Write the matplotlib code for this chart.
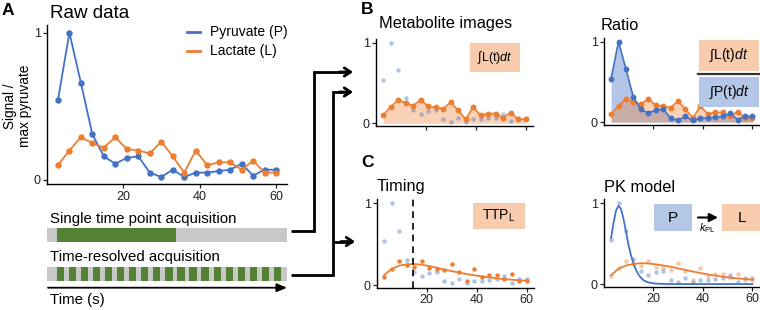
import numpy as np
import matplotlib
matplotlib.use("Agg")
import matplotlib.pyplot as plt
from matplotlib.patches import Rectangle

plt.rcParams["font.family"] = ["Liberation Sans", "DejaVu Sans"]
plt.rcParams["mathtext.fontset"] = "custom"
plt.rcParams["mathtext.rm"] = "Liberation Sans"
plt.rcParams["mathtext.it"] = "Liberation Sans:italic"

# data (signal / max pyruvate)
time = [3, 6, 9, 12, 15, 18, 21, 24, 27, 30, 33, 36, 39, 42, 45, 48, 51, 54, 57, 60]
pyruvate = [0.54, 1.00, 0.66, 0.31, 0.16, 0.11, 0.15, 0.16, 0.05, 0.02,
            0.07, 0.02, 0.05, 0.05, 0.06, 0.07, 0.11, 0.03, 0.07, 0.07]
lactate = [0.10, 0.20, 0.29, 0.25, 0.22, 0.29, 0.21, 0.20, 0.18, 0.26,
           0.16, 0.05, 0.20, 0.10, 0.12, 0.12, 0.07, 0.13, 0.05, 0.05]

# smoothed lactate curve (timing panel)
smooth_lac = [0.122, 0.196, 0.237, 0.253, 0.256, 0.249, 0.232, 0.212, 0.190, 0.171,
              0.152, 0.135, 0.120, 0.106, 0.094, 0.082, 0.073, 0.065, 0.058, 0.053]
ttp_lactate = 14.4

# PK model fits
pk_time_p = [3, 4, 5, 6, 7, 8, 9, 10, 11, 12, 13, 14, 15, 16, 17, 18, 20, 22, 25, 30, 40, 50, 60]
pk_pyr = [0.57, 0.76, 0.91, 0.97, 0.93, 0.81, 0.65, 0.49, 0.36, 0.26, 0.18, 0.12,
          0.08, 0.05, 0.033, 0.021, 0.009, 0.004, 0.001, 0, 0, 0, 0]
pk_lac = [0.11, 0.19, 0.23, 0.25, 0.258, 0.255, 0.245, 0.23, 0.215, 0.195,
          0.175, 0.155, 0.137, 0.12, 0.105, 0.092, 0.08, 0.07, 0.062, 0.055]

blue = "#4472C4"
orange = "#ED7D31"
box_or = "#F8CBAD"
box_bl = "#B4C7E7"
W, H = 760, 310

fig = plt.figure(figsize=(7.6, 3.1), dpi=100)


def axes_px(l, t, r, b):
    return fig.add_axes([l / W, 1 - b / H, (r - l) / W, (b - t) / H])


def style(ax, xlabels=True):
    ax.set_xlim(0.15, 62.85)
    ax.set_ylim(-0.03, 1.05)
    for s in ["top", "right"]:
        ax.spines[s].set_visible(False)
    for s in ["left", "bottom"]:
        ax.spines[s].set_linewidth(1.0)
    ax.set_xticks([20, 40, 60])
    ax.set_yticks([0, 1])
    ax.set_yticklabels(["0", "1"])
    ax.tick_params(length=3, width=0.9, labelsize=9, pad=1.5, colors="#222")
    ax.tick_params(labelbottom=xlabels)
    ax.patch.set_alpha(0)


# A: raw data
axA = axes_px(47, 25.3, 287, 184.4)
style(axA)
axA.plot(time, pyruvate, "-o", color=blue, lw=1.3, ms=3.6)
axA.plot(time, lactate, "-o", color=orange, lw=1.3, ms=3.6)

# B: metabolite images
axB1 = axes_px(376, 38.7, 532.7, 125.7)
style(axB1, False)
axB1.fill_between(time, 0, lactate, color=orange, alpha=0.35, lw=0)
axB1.plot(time, pyruvate, "o", color=blue, alpha=0.42, ms=3.2, mec="none")
axB1.plot(time, lactate, "-o", color=orange, lw=1.2, ms=3.2)

# B: ratio
axB2 = axes_px(604, 37.7, 759.5, 124.5)
style(axB2, False)
axB2.fill_between(time, 0, pyruvate, color=blue, alpha=0.4, lw=0)
axB2.fill_between(time, 0, lactate, color=orange, alpha=0.35, lw=0)
axB2.plot(time, lactate, "-o", color=orange, lw=1.2, ms=3.2)
axB2.plot(time, pyruvate, "-o", color=blue, lw=1.2, ms=3.2)

# C: timing
axC1 = axes_px(377, 199.2, 533.7, 287.5)
style(axC1)
axC1.plot(time, pyruvate, "o", color=blue, alpha=0.42, ms=3.2, mec="none")
axC1.plot(time, lactate, "o", color=orange, ms=3.2, mec="none")
axC1.plot(time, smooth_lac, "-", color=orange, lw=1.3)
axC1.axvline(ttp_lactate, color="black", lw=1.2, ls=(0, (4, 3)))

# C: PK model
axC2 = axes_px(604, 199.3, 759.5, 286.5)
style(axC2)
axC2.plot(time, pyruvate, "o", color=blue, alpha=0.42, ms=3.2, mec="none")
axC2.plot(time, lactate, "o", color=orange, alpha=0.42, ms=3.2, mec="none")
axC2.plot(pk_time_p, pk_pyr, "-", color=blue, lw=1.3)
axC2.plot(time, pk_lac, "-", color=orange, lw=1.3)

# acquisition schematic, same time axis as panel A
axT = axes_px(47, 190, 287, 310)
axT.set_xlim(0.15, 62.85)
axT.set_ylim(310, 190)
axT.axis("off")
axT.add_patch(Rectangle((0.15, 228.3), 62.7, 13.4, color="#C8C8C8", lw=0))
axT.add_patch(Rectangle((2.7, 228.3), 31.2, 13.4, color="#548235", lw=0))
axT.add_patch(Rectangle((0.15, 267.3), 62.7, 13.4, color="#C8C8C8", lw=0))
n_frames = 19
for s in np.linspace(2.7, 61.3 - 1.9, n_frames):
    axT.add_patch(Rectangle((s, 267.3), 1.9, 13.4, color="#548235", lw=0))

# overlay in pixel coordinates
ov = fig.add_axes([0, 0, 1, 1])
ov.set_xlim(0, W)
ov.set_ylim(H, 0)
ov.axis("off")
ov.patch.set_alpha(0)

ov.text(2, 10.5, "A", fontsize=12.5, fontweight="bold", va="center")
ov.text(361, 9, "B", fontsize=12.5, fontweight="bold", va="center")
ov.text(361, 162.5, "C", fontsize=12.5, fontweight="bold", va="center")
ov.text(50, 13, "Raw data", fontsize=13.5, va="center")
ov.text(379, 23.5, "Metabolite images", fontsize=11.8, va="center")
ov.text(601, 25, "Ratio", fontsize=11.8, va="center")
ov.text(377, 187, "Timing", fontsize=11.8, va="center")
ov.text(604, 188, "PK model", fontsize=11.8, va="center")
ov.text(17.5, 106, "Signal /\nmax pyruvate", fontsize=9.8, rotation=90,
        ha="center", va="center", multialignment="center", linespacing=1.15)

# legend
ov.plot([187, 200], [32.3, 32.3], color=blue, lw=2)
ov.plot([187, 200], [50.7, 50.7], color=orange, lw=2)
ov.text(210.5, 32.3, "Pyruvate (P)", fontsize=10, va="center")
ov.text(210.5, 50.7, "Lactate (L)", fontsize=10, va="center")

# acquisition labels
ov.text(50, 218.5, "Single time point acquisition", fontsize=10.8, va="center")
ov.text(50, 257.5, "Time-resolved acquisition", fontsize=10.8, va="center")
ov.text(50, 300, "Time (s)", fontsize=10.8, va="center")
ov.annotate("", xy=(287, 287.7), xytext=(48, 287.7),
            arrowprops=dict(arrowstyle="-|>,head_length=0.6,head_width=0.25",
                            color="black", lw=1.3, shrinkA=0, shrinkB=0))

# connectors
lk = dict(color="black", lw=2.0, solid_joinstyle="miter", solid_capstyle="butt")
ov.plot([291, 314, 314, 350], [231, 231, 72, 72], **lk)
ov.plot([291, 333, 333, 350], [275, 275, 92, 92], **lk)
ov.plot([333, 352], [241.5, 241.5], **lk)
for y, x in [(72, 353), (92, 353), (241.5, 355)]:
    ov.annotate("", xy=(x, y), xytext=(x - 14, y),
                arrowprops=dict(arrowstyle="->,head_length=0.45,head_width=0.3",
                                color="black", lw=2.0, shrinkA=0, shrinkB=0))

# boxes
def box(l, t, r, b, c, txt, fs=10):
    ov.add_patch(Rectangle((l, t), r - l, b - t, color=c, lw=0))
    ov.text((l + r) / 2, (t + b) / 2, txt, fontsize=fs, ha="center", va="center")


box(470, 43, 520, 72, box_or, r"$\int\mathrm{L(t)}\mathit{dt}$", 9)
box(699, 40, 759, 71, box_or, r"$\int\mathrm{L(t)}\mathit{dt}$", 10)
box(699, 77, 759, 107, box_bl, r"$\int\mathrm{P(t)}\mathit{dt}$", 10)
ov.plot([698, 760], [73.5, 73.5], color="#333333", lw=1.6)
box(473, 203, 525, 229, box_or, r"$\mathrm{TTP_L}$")
box(654, 204, 692, 231, box_bl, "P", 11)
box(722, 204, 762, 231, box_or, "L", 11)
ov.annotate("", xy=(718, 217.5), xytext=(698, 217.5),
            arrowprops=dict(arrowstyle="-|>,head_length=0.5,head_width=0.25",
                            color="black", lw=1.5, shrinkA=0, shrinkB=0))
ov.text(707, 228, r"$k_\mathrm{PL}$", fontsize=8, ha="center", va="center")

fig.savefig("out.png", dpi=100)
